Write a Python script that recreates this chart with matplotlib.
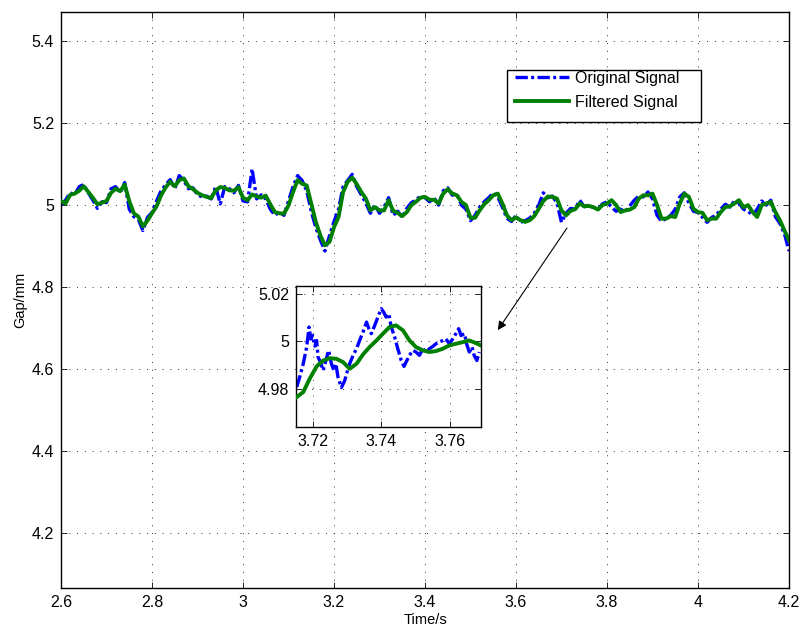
import numpy as np
import matplotlib
matplotlib.use("Agg")
import matplotlib.pyplot as plt
from matplotlib.patches import Rectangle

plt.rcParams['font.family'] = ['Liberation Sans', 'DejaVu Sans']

# ---- measured gap signal, sampled every 10 ms from 2.60 s to 4.20 s ----
t_start = 2.60
t_step = 0.01

filtered_signal = [
    5.010, 5.004, 5.025, 5.028, 5.035, 5.046, 5.032, 5.018, 5.002, 5.006,
    5.010, 5.030, 5.040, 5.034, 5.050, 5.010, 4.980, 4.972, 4.948, 4.962,
    4.980, 4.997, 5.024, 5.043, 5.057, 5.046, 5.061, 5.065, 5.046, 5.039,
    5.030, 5.024, 5.020, 5.017, 5.036, 5.044, 5.042, 5.036, 5.035, 5.044,
    5.018, 5.012, 5.026, 5.021, 5.018, 5.023, 5.002, 4.983, 4.980, 4.979,
    4.999, 5.032, 5.061, 5.052, 5.048, 5.004, 4.959, 4.926, 4.902, 4.910,
    4.946, 4.971, 5.032, 5.057, 5.067, 5.051, 5.032, 5.016, 4.987, 4.995,
    4.987, 4.987, 5.012, 4.986, 4.981, 4.973, 4.983, 5.000, 5.008, 5.018,
    5.020, 5.013, 5.013, 5.004, 5.028, 5.039, 5.028, 5.024, 5.008, 5.000,
    4.969, 4.969, 4.987, 5.002, 5.012, 5.024, 5.028, 5.004, 4.975, 4.963,
    4.970, 4.963, 4.959, 4.963, 4.973, 4.991, 5.010, 5.021, 5.020, 5.016,
    4.987, 4.975, 4.986, 4.990, 5.004, 4.997, 4.998, 4.995, 4.989, 5.000,
    5.004, 5.012, 5.000, 4.983, 4.987, 4.989, 4.995, 5.016, 5.024, 5.024,
    5.028, 5.000, 4.967, 4.967, 4.973, 4.971, 5.004, 5.028, 5.020, 4.991,
    4.983, 4.981, 4.963, 4.967, 4.967, 4.983, 4.995, 4.997, 5.004, 5.012,
    4.995, 5.000, 4.983, 4.971, 5.000, 5.004, 5.008, 4.983, 4.963, 4.938,
    4.914,
]

original_signal = [
    5.000, 5.012, 5.030, 5.025, 5.045, 5.050, 5.030, 5.012, 4.992, 5.008,
    5.006, 5.040, 5.045, 5.030, 5.055, 4.990, 4.972, 4.965, 4.938, 4.970,
    4.982, 5.010, 5.035, 5.050, 5.062, 5.040, 5.072, 5.060, 5.040, 5.042,
    5.025, 5.020, 5.022, 5.015, 5.045, 5.003, 5.045, 5.040, 5.030, 5.048,
    5.010, 5.008, 5.088, 5.015, 5.025, 5.015, 4.990, 4.975, 4.983, 4.975,
    5.010, 5.045, 5.072, 5.060, 5.035, 4.985, 4.945, 4.915, 4.888, 4.925,
    4.960, 4.990, 5.045, 5.060, 5.075, 5.045, 5.025, 5.005, 4.980, 5.000,
    4.980, 4.995, 5.018, 4.975, 4.985, 4.970, 4.992, 5.006, 5.012, 5.022,
    5.018, 5.008, 5.018, 5.000, 5.035, 5.042, 5.024, 5.028, 5.000, 4.990,
    4.962, 4.975, 4.995, 5.008, 5.018, 5.030, 5.020, 4.995, 4.968, 4.960,
    4.975, 4.958, 4.962, 4.968, 4.980, 5.000, 5.030, 5.018, 5.022, 5.005,
    4.958, 4.980, 4.992, 4.990, 5.012, 4.996, 5.000, 4.994, 4.990, 5.003,
    5.008, 4.995, 4.985, 4.990, 4.983, 4.998, 5.012, 5.022, 5.020, 5.032,
    5.015, 4.975, 4.960, 4.968, 4.975, 4.990, 5.020, 5.030, 5.005, 4.985,
    4.982, 4.970, 4.958, 4.970, 4.975, 4.990, 5.002, 4.995, 5.010, 5.005,
    4.990, 4.985, 4.975, 4.990, 5.010, 5.000, 5.012, 4.972, 4.955, 4.930,
    4.888,
]

time = t_start + t_step * np.arange(len(filtered_signal))

# ---- close-up window 3.715 s .. 3.769 s, finer sampling ----
zoom_t_orig = [
    3.7154, 3.7163, 3.7173, 3.7183, 3.7190, 3.7195, 3.7200, 3.7207, 3.7212, 3.7216,
    3.7223, 3.7231, 3.7239, 3.7247, 3.7255, 3.7262, 3.7268, 3.7274, 3.7284, 3.7294,
    3.7299, 3.7308, 3.7318, 3.7328, 3.7337, 3.7347, 3.7357, 3.7364, 3.7371, 3.7381,
    3.7390, 3.7400, 3.7407, 3.7414, 3.7422, 3.7429, 3.7439, 3.7448, 3.7458, 3.7466,
    3.7472, 3.7482, 3.7492, 3.7501, 3.7511, 3.7521, 3.7530, 3.7540, 3.7550, 3.7559,
    3.7569, 3.7579, 3.7588, 3.7598, 3.7608, 3.7617, 3.7625, 3.7632, 3.7642, 3.7648,
    3.7656, 3.7664, 3.7670, 3.7678, 3.7685,
]
zoom_orig = [
    4.9806, 4.9850, 4.9905, 4.9976, 5.0061, 5.0010, 5.0025, 4.9980, 5.0004, 4.9934,
    4.9912, 4.9877, 4.9920, 4.9962, 4.9905, 4.9877, 4.9905, 4.9849, 4.9804, 4.9835,
    4.9863, 4.9905, 4.9941, 4.9969, 5.0004, 5.0040, 5.0082, 5.0054, 5.0033, 5.0068,
    5.0103, 5.0139, 5.0124, 5.0103, 5.0117, 5.0061, 5.0018, 4.9969, 4.9919, 4.9894,
    4.9912, 4.9941, 4.9962, 4.9955, 4.9941, 4.9969, 4.9955, 4.9969, 4.9979, 4.9990,
    4.9997, 5.0004, 5.0011, 4.9990, 5.0011, 5.0033, 5.0054, 5.0025, 5.0033, 4.9990,
    4.9955, 4.9976, 4.9941, 4.9919, 4.9955,
]

zoom_t_filt = [
    3.7154, 3.7173, 3.7192, 3.7212, 3.7231, 3.7250, 3.7270, 3.7289, 3.7308, 3.7328,
    3.7347, 3.7366, 3.7386, 3.7405, 3.7424, 3.7443, 3.7463, 3.7482, 3.7501, 3.7521,
    3.7540, 3.7559, 3.7579, 3.7598, 3.7617, 3.7637, 3.7656, 3.7675, 3.7690,
]
zoom_filt = [
    4.9764, 4.9785, 4.9842, 4.9894, 4.9919, 4.9929, 4.9926, 4.9912, 4.9884, 4.9905,
    4.9945, 4.9976, 5.0004, 5.0033, 5.0061, 5.0068, 5.0047, 5.0004, 4.9976, 4.9962,
    4.9955, 4.9959, 4.9969, 4.9983, 4.9990, 4.9997, 5.0004, 4.9993, 4.9983,
]

main_xticks = [2.6, 2.8, 3.0, 3.2, 3.4, 3.6, 3.8, 4.0, 4.2]
main_xticklabels = ['2.6', '2.8', '3', '3.2', '3.4', '3.6', '3.8', '4', '4.2']
main_yticks = [4.2, 4.4, 4.6, 4.8, 5.0, 5.2, 5.4]
main_yticklabels = ['4.2', '4.4', '4.6', '4.8', '5', '5.2', '5.4']
zoom_xticks = [3.72, 3.74, 3.76]
zoom_xticklabels = ['3.72', '3.74', '3.76']
zoom_yticks = [4.98, 5.00, 5.02]
zoom_yticklabels = ['4.98', '5', '5.02']

series_names = ['Original Signal', 'Filtered Signal']

BLUE = '#0000ff'
GREEN = '#008000'
W, H = 801, 628
FS = 11.5

fig = plt.figure(figsize=(W / 100, H / 100), dpi=100)


def style_axes(ax):
    ax.tick_params(direction='in', length=4, width=0.6, top=True, right=True,
                   labelsize=FS, pad=5)
    for sp in ax.spines.values():
        sp.set_linewidth(1.0)
    ax.grid(True, color='#303030', linestyle=(0, (1, 7)), linewidth=0.7)
    ax.set_axisbelow(True)


# ---- main axes ----
ax = fig.add_axes([61 / W, 1 - 588 / H, 728 / W, 576 / H])
ax.plot(time, original_signal, color=BLUE, linewidth=2.4,
        dashes=(3.7, 1.0, 0.9, 1.0), label=series_names[0], zorder=2)
ax.plot(time, filtered_signal, color=GREEN, linewidth=2.8,
        label=series_names[1], zorder=3)
ax.set_xlim(2.6, 4.2)
ax.set_ylim(4.066, 5.471)
ax.set_xticks(main_xticks)
ax.set_xticklabels(main_xticklabels)
ax.set_yticks(main_yticks)
ax.set_yticklabels(main_yticklabels)
ax.set_xlabel('Time/s', fontsize=10.5, labelpad=2)
ax.set_ylabel('Gap/mm', fontsize=10.5, labelpad=3)
style_axes(ax)

# legend inside a square white frame
frame = Rectangle((507 / W, 1 - 122 / H), 194 / W, 52 / H, transform=fig.transFigure,
                  facecolor='white', edgecolor='black', linewidth=1.0,
                  zorder=5, clip_on=False)
ax.add_patch(frame)
leg = ax.legend(loc='upper left', bbox_to_anchor=(515 / W, 1 - 71 / H),
                bbox_transform=fig.transFigure, frameon=False, fontsize=FS,
                handlelength=3.4, handletextpad=0.35, labelspacing=0.55,
                borderpad=0, borderaxespad=0)
leg.set_zorder(6)

# pointer from the detail region to the close-up
ax.annotate('', xy=(3.560, 4.695), xytext=(3.712, 4.944),
            arrowprops=dict(arrowstyle='-|>', color='black', lw=0.8,
                            mutation_scale=13, shrinkA=0, shrinkB=0),
            zorder=4)

# ---- close-up axes ----
ax2 = fig.add_axes([296 / W, 1 - 427 / H, 185 / W, 141 / H])
ax2.set_facecolor('white')
ax2.plot(zoom_t_orig, zoom_orig, color=BLUE, linewidth=2.4,
         dashes=(3.7, 1.0, 0.9, 1.0), zorder=2)
ax2.plot(zoom_t_filt, zoom_filt, color=GREEN, linewidth=2.8, zorder=3)
ax2.set_xlim(3.7152, 3.769)
ax2.set_ylim(4.9637, 5.0235)
ax2.set_xticks(zoom_xticks)
ax2.set_xticklabels(zoom_xticklabels)
ax2.set_yticks(zoom_yticks)
ax2.set_yticklabels(zoom_yticklabels)
style_axes(ax2)

fig.savefig('out.png', dpi=100)
